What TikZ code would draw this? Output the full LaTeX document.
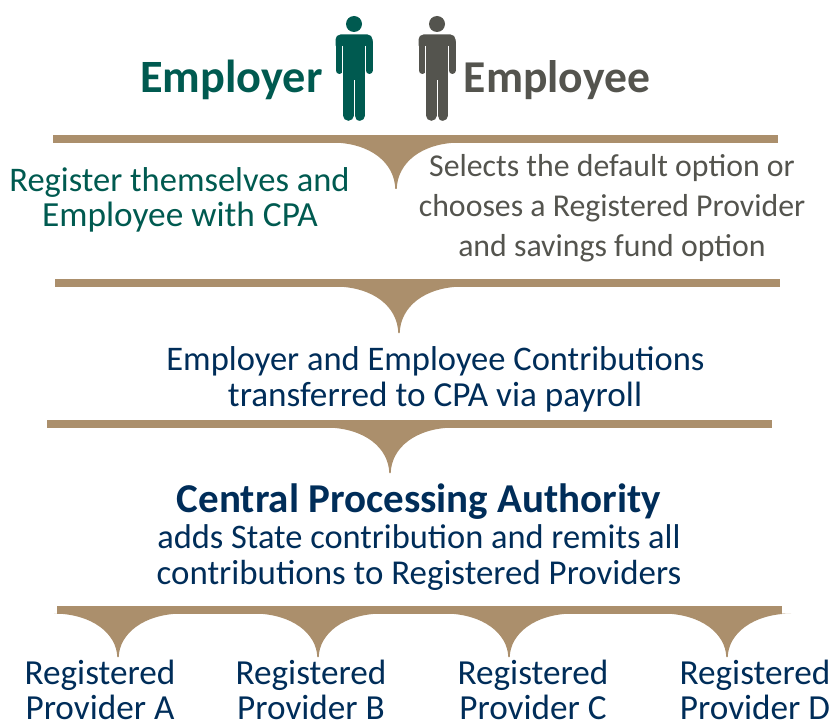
\documentclass[tikz,border=0pt]{standalone}
\usepackage{fontspec}
\setmainfont{Carlito}
\definecolor{empgreen}{HTML}{005A50}
\definecolor{empgrey}{HTML}{54544E}
\definecolor{navy}{HTML}{002D59}
\definecolor{tan}{HTML}{AB8F6C}
\newcommand{\bracebar}[2]{%
  \fill[tan] (#1,#2) rectangle (#1+725,#2+8);}
\newcommand{\spike}[3]{% centre x, bar top, tip y
  \fill[tan] (#1-64,#2+7.5) .. controls (#1-25,#2+8) and (#1-1.5,#2+28) .. (#1-0.7,#3)
     -- (#1+0.7,#3) .. controls (#1+1.5,#2+28) and (#1+25,#2+8) .. (#1+64,#2+7.5) -- cycle;}
\newcommand{\person}[2]{% centre x, colour
  \begin{scope}[shift={(#1,0)}]
  \fill[#2] (0,24) circle (8);
  \fill[#2, rounded corners=5pt] (-18.5,50) -- (-18.5,34.5) -- (18.5,34.5) -- (18.5,50) -- cycle;
  \fill[#2] (-11,40) rectangle (11,80);
  \draw[#2, line width=7pt, line cap=round] (-15,42) -- (-15,70.5);
  \draw[#2, line width=7pt, line cap=round] (15,42) -- (15,70.5);
  \draw[#2, line width=10.4pt, line cap=round] (-5.7,60) -- (-5.7,115.6);
  \draw[#2, line width=10.4pt, line cap=round] (5.7,60) -- (5.7,115.6);
  \draw[white, line width=0.35pt] (-11.4,46) -- (-11.4,73);
  \draw[white, line width=0.35pt] (11.4,46) -- (11.4,73);
  \end{scope}}
\tikzset{
  lbl/.style={inner sep=0pt, align=center, anchor=base, font=\fontsize{#1}{#1}\selectfont},
}
\begin{document}
\begin{tikzpicture}[x=1pt,y=-1pt]
\useasboundingbox (0,0) rectangle (833,722);
\person{354}{empgreen}
\person{437}{empgrey}
\bracebar{53}{135}
\spike{396}{135}{189}
\bracebar{55}{279}
\spike{399}{279}{333}
\bracebar{47}{420}
\spike{390}{420}{473}
\bracebar{57}{606}
\spike{118}{606}{657}
\spike{318}{606}{657}
\spike{509}{606}{657}
\spike{727}{606}{657}
\node[lbl=46.3,text=empgreen] (employer) at (231.5,92.5) {\bfseries Employer};
\node[lbl=45.6,text=empgrey] (employee) at (557,92.5) {\bfseries Employee};
\node[lbl=34.5,text=empgreen] (reg1) at (179.5,192) {Register themselves and};
\node[lbl=35.3,text=empgreen] (reg2) at (180,227) {Employee with CPA};
\node[lbl=31.8,text=empgrey] (sel1) at (612,177) {Selects the default option or};
\node[lbl=31.8,text=empgrey] (sel2) at (612,217) {chooses a Registered Provider};
\node[lbl=31.8,text=empgrey] (sel3) at (612,257) {and savings fund option};
\node[lbl=34.5,text=navy] (con1) at (435.5,370) {Employer and Employee Contributions};
\node[lbl=35.2,text=navy] (con2) at (435,406) {transferred to CPA via payroll};
\node[lbl=41,text=navy] (cpa) at (419,512.5) {\bfseries Central Processing Authority};
\node[lbl=34.4,text=navy] (add1) at (419,548) {adds State contribution and remits all};
\node[lbl=34.9,text=navy] (add2) at (419,584) {contributions to Registered Providers};
\node[lbl=35.2,text=navy] (a1) at (100,684.5) {Registered};
\node[lbl=35.2,text=navy] (a2) at (100,719) {Provider A};
\node[lbl=35.2,text=navy] (b1) at (311,684.5) {Registered};
\node[lbl=35.2,text=navy] (b2) at (311,719) {Provider B};
\node[lbl=35.2,text=navy] (c1) at (533,684.5) {Registered};
\node[lbl=35.2,text=navy] (c2) at (533,719) {Provider C};
\node[lbl=35.2,text=navy] (d1) at (755,684.5) {Registered};
\node[lbl=35.2,text=navy] (d2) at (755,719) {Provider D};
\end{tikzpicture}
\end{document}
